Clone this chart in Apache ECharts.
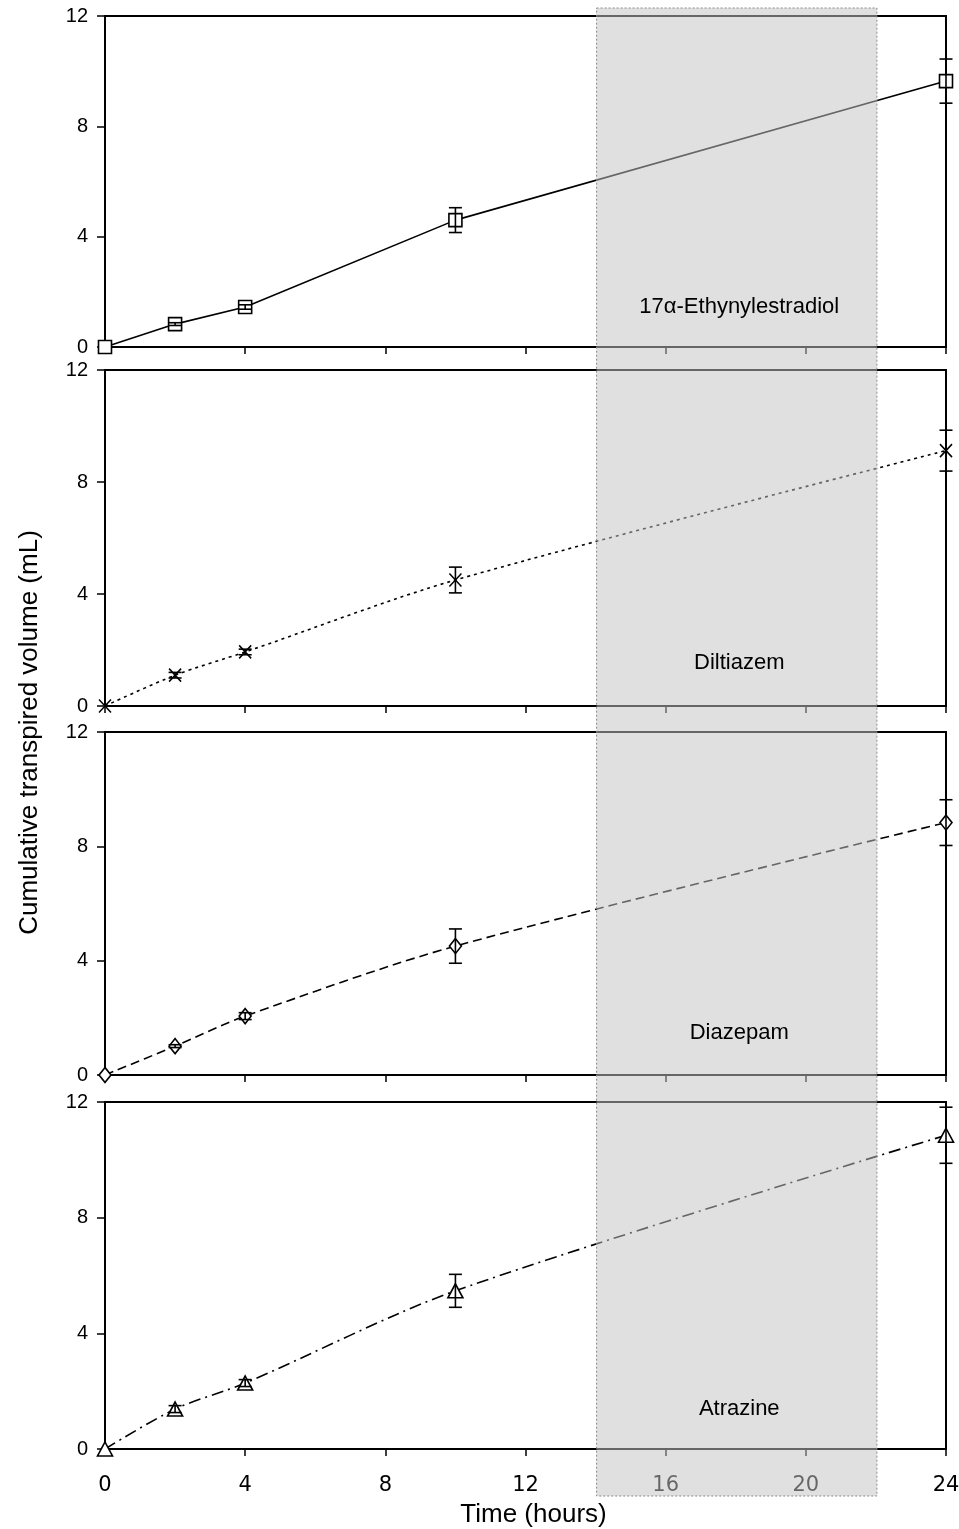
<!DOCTYPE html>
<html>
<head>
<meta charset="utf-8">
<script src="https://cdn.jsdelivr.net/npm/echarts@6/dist/echarts.min.js"></script>
<style>
html,body{margin:0;padding:0;background:#fff;}
#chart{width:959px;height:1529px;}
</style>
</head>
<body>
<div id="chart"></div>
<script>
// ---- data ----
const hours = [0, 2, 4, 10, 24];
const xTicks = [0, 4, 8, 12, 16, 20, 24];
const yTicks = [0, 4, 8, 12];
const compounds = ['17α-Ethynylestradiol', 'Diltiazem', 'Diazepam', 'Atrazine'];
const ee2 = [0, 0.83, 1.45, 4.6, 9.64];
const ee2Err = [0, 0.05, 0.08, 0.45, 0.8];
const diltiazem = [0, 1.1, 1.93, 4.5, 9.12];
const diltiazemErr = [0, 0.1, 0.1, 0.46, 0.73];
const diazepam = [0, 1.01, 2.06, 4.51, 8.83];
const diazepamErr = [0, 0.05, 0.12, 0.6, 0.8];
const atrazine = [0, 1.38, 2.28, 5.47, 10.85];
const atrazineErr = [0, 0.12, 0.12, 0.57, 0.97];
const shadedPeriod = [14, 22];
const labelPos = [[18.1, 1.45], [18.1, 1.54], [18.1, 1.47], [18.1, 1.38]];

// ---- layout ----
const GRIDS = [
  {top: 16, height: 331},
  {top: 370, height: 336},
  {top: 732, height: 343},
  {top: 1102, height: 347}
];
const LEFT = 105, RIGHT = 13;
const FONT = "'Liberation Sans', Arial, sans-serif";
const FONT_X = "'DejaVu Sans', sans-serif";

const values = [ee2, diltiazem, diazepam, atrazine];
const errs = [ee2Err, diltiazemErr, diazepamErr, atrazineErr];
const symbols = ['rect', 'path://M0,0L10,12M10,0L0,12', 'diamond', 'triangle'];
const symbolSizes = [[13, 13], [12, 13], [12, 15], [15, 14]];
const dashes = ['solid', [3, 4], [9, 5], [12, 5, 2, 5]];
const smooths = [false, 0.3, 0.3, 0.3];

const chart = echarts.init(document.getElementById('chart'), null, {renderer: 'canvas'});

const grid = GRIDS.map(g => ({
  left: LEFT, right: RIGHT, top: g.top, height: g.height,
  outerBoundsMode: 'none', containLabel: false,
  show: true, borderColor: '#000', borderWidth: 2, backgroundColor: 'transparent'
}));

const xAxis = GRIDS.map((g, i) => ({
  type: 'value', gridIndex: i, min: 0, max: 24, interval: 4,
  axisLine: {show: true, onZero: false, lineStyle: {color: '#000', width: 2}},
  axisTick: {show: true, length: 7, lineStyle: {color: '#000', width: 1.5}},
  axisLabel: {show: i === 3, color: '#000', fontSize: 21, fontFamily: FONT_X, margin: 26},
  splitLine: {show: false},
  name: i === 3 ? 'Time (hours)' : '',
  nameLocation: 'middle', nameGap: 53,
  nameTextStyle: {color: '#000', fontSize: 26, fontFamily: FONT, padding: [0, 0, 0, 16]}
}));

const yAxis = GRIDS.map((g, i) => ({
  type: 'value', gridIndex: i, min: 0, max: 12, interval: 4,
  axisLine: {show: true, lineStyle: {color: '#000', width: 2}},
  axisTick: {show: true, length: 8, lineStyle: {color: '#000', width: 1.5}},
  axisLabel: {color: '#000', fontSize: 20, fontFamily: FONT, margin: 17},
  splitLine: {show: false}
}));

const series = [];
values.forEach((vals, i) => {
  series.push({
    type: 'line', xAxisIndex: i, yAxisIndex: i,
    data: hours.map((h, k) => [h, vals[k]]),
    smooth: smooths[i],
    symbol: symbols[i], symbolSize: symbolSizes[i],
    showAllSymbol: true,
    lineStyle: {color: '#000', width: 1.6, type: dashes[i]},
    itemStyle: {color: i === 1 ? 'none' : '#fff', borderColor: '#000', borderWidth: 1.6},
    z: 3, animation: false
  });
  series.push({
    type: 'custom', xAxisIndex: i, yAxisIndex: i,
    data: hours.map((h, k) => [h, vals[k], errs[i][k]]).filter(d => d[2] > 0),
    renderItem: function (params, api) {
      const x = api.value(0), y = api.value(1), e = api.value(2);
      const t = api.coord([x, y + e]);
      const b = api.coord([x, y - e]);
      const half = 6.5;
      const st = {stroke: '#000', lineWidth: 1.6};
      return {
        type: 'group',
        children: [
          {type: 'line', shape: {x1: t[0], y1: t[1], x2: b[0], y2: b[1]}, style: st},
          {type: 'line', shape: {x1: t[0] - half, y1: t[1], x2: t[0] + half, y2: t[1]}, style: st},
          {type: 'line', shape: {x1: b[0] - half, y1: b[1], x2: b[0] + half, y2: b[1]}, style: st}
        ]
      };
    },
    z: 4, animation: false, silent: true
  });
  series.push({
    type: 'custom', xAxisIndex: i, yAxisIndex: i,
    data: [[labelPos[i][0], labelPos[i][1]]],
    renderItem: function (params, api) {
      const p = api.coord([api.value(0), api.value(1)]);
      return {
        type: 'text', x: p[0], y: p[1], z2: 200,
        style: {text: compounds[i], fill: '#000', font: '22px ' + FONT, align: 'center', verticalAlign: 'middle'}
      };
    },
    z: 200, animation: false, silent: true
  });
});

// shaded period overlay (drawn over everything, spanning all panels)
series.push({
  type: 'custom', xAxisIndex: 3, yAxisIndex: 3,
  data: [[shadedPeriod[0], shadedPeriod[1]]],
  clip: false,
  renderItem: function (params, api) {
    const p1 = api.coord([api.value(0), 0]);
    const p2 = api.coord([api.value(1), 0]);
    const top = GRIDS[0].top - 8;
    const bottom = GRIDS[3].top + GRIDS[3].height + 47;
    return {
      type: 'rect',
      shape: {x: p1[0] + 1, y: top, width: p2[0] - p1[0], height: bottom - top},
      style: {fill: 'rgba(196,196,196,0.52)', stroke: '#8a8a8a', lineWidth: 1, lineDash: [2, 2]}
    };
  },
  z: 100, animation: false, silent: true
});

chart.setOption({
  animation: false,
  backgroundColor: '#fff',
  grid: grid,
  xAxis: xAxis,
  yAxis: yAxis,
  series: series,
  graphic: [{
    type: 'text', x: 30, y: (GRIDS[0].top + GRIDS[3].top + GRIDS[3].height) / 2, rotation: Math.PI / 2,
    style: {text: 'Cumulative transpired volume (mL)', fill: '#000', font: '26px ' + FONT, align: 'center', verticalAlign: 'middle'}
  }]
});
</script>
</body>
</html>
